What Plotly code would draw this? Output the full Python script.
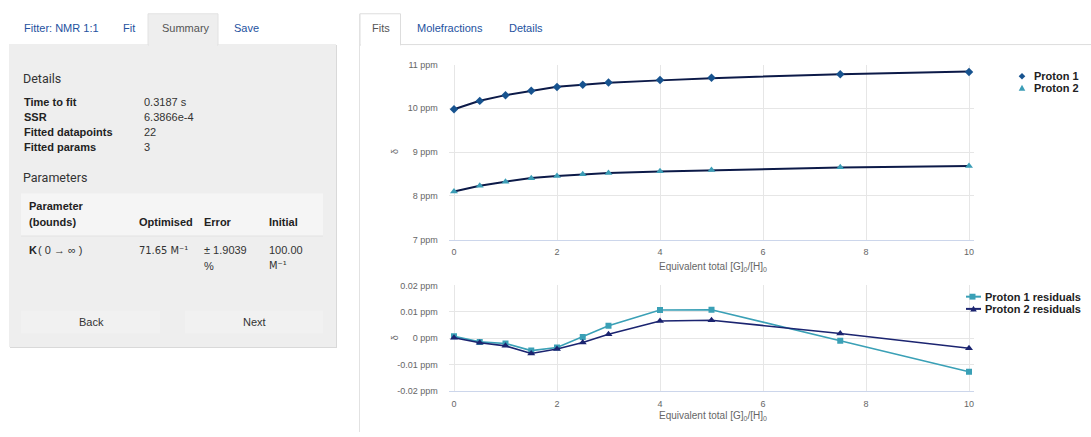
import plotly.graph_objects as go

W, H = 1091, 437

# Titration: equivalents of guest added
equiv = [0, 0.5, 1, 1.5, 2, 2.5, 3, 4, 5, 7.5, 10]

# Observed chemical shifts (ppm)
proton1_obs = [9.98, 10.17, 10.30, 10.40, 10.49, 10.54, 10.59, 10.65, 10.70, 10.78, 10.83]
proton2_obs = [8.10, 8.23, 8.32, 8.40, 8.45, 8.49, 8.52, 8.56, 8.59, 8.65, 8.68]

# Residuals of the 1:1 fit (ppm)
proton1_resid = [0.0007, -0.0014, -0.0020, -0.0047, -0.0035, 0.0005, 0.0047, 0.0107, 0.0108, -0.0010, -0.0127]
proton2_resid = [0.0002, -0.0017, -0.0029, -0.0058, -0.0041, -0.0016, 0.0015, 0.0065, 0.0068, 0.0018, -0.0038]

# Fitted curves: observed minus residual
proton1_fit = [o - r for o, r in zip(proton1_obs, proton1_resid)]
proton2_fit = [o - r for o, r in zip(proton2_obs, proton2_resid)]

x_ticks = [0, 2, 4, 6, 8, 10]
fit_ticks = [7, 8, 9, 10, 11]
fit_tick_labels = ["7 ppm", "8 ppm", "9 ppm", "10 ppm", "11 ppm"]
resid_ticks = [-0.02, -0.01, 0, 0.01, 0.02]
resid_tick_labels = ["-0.02 ppm", "-0.01 ppm", "0 ppm", "0.01 ppm", "0.02 ppm"]

x_title = "Equivalent total [G]<sub>0</sub>/[H]<sub>0</sub>"

C_P1 = "#17538f"
C_P2 = "#3b9db6"
C_FIT = "#0c1a48"
C_R1 = "#3aa0b6"
C_R2 = "#1b2470"
LINK = "#2452a0"
UI_FONT = "Liberation Sans"


def px(x):
    return x / W


def py(y):
    return 1 - y / H


fig = go.Figure()

# --- fits panel ---
fig.add_trace(go.Scatter(x=equiv, y=proton1_fit, mode="lines",
                         line=dict(color=C_FIT, width=2), xaxis="x", yaxis="y"))
fig.add_trace(go.Scatter(x=equiv, y=proton2_fit, mode="lines",
                         line=dict(color=C_FIT, width=2), xaxis="x", yaxis="y"))
fig.add_trace(go.Scatter(x=equiv, y=proton1_obs, mode="markers",
                         marker=dict(symbol="diamond", size=6.5, color=C_P1),
                         xaxis="x", yaxis="y"))
fig.add_trace(go.Scatter(x=equiv, y=proton2_obs, mode="markers",
                         marker=dict(symbol="triangle-up", size=7, color=C_P2),
                         xaxis="x", yaxis="y"))

# --- residuals panel ---
fig.add_trace(go.Scatter(x=equiv, y=proton1_resid, mode="lines+markers",
                         line=dict(color=C_R1, width=1.6),
                         marker=dict(symbol="square", size=6, color=C_R1),
                         xaxis="x2", yaxis="y2"))
fig.add_trace(go.Scatter(x=equiv, y=proton2_resid, mode="lines+markers",
                         line=dict(color=C_R2, width=1.6),
                         marker=dict(symbol="triangle-up", size=7, color=C_R2),
                         xaxis="x2", yaxis="y2"))

x_dom = [px(448.85), px(974.15)]
tick_font = dict(family=UI_FONT, size=9, color="#666666")
xaxis_common = dict(range=[-0.1, 10.1], tickvals=x_ticks, showgrid=True,
                    gridcolor="#e6e6e6", showline=True, linecolor="#ccd6eb",
                    linewidth=1, zeroline=False, ticks="", tickfont=tick_font,
                    ticklabelstandoff=4, fixedrange=True)
yaxis_common = dict(showgrid=True, gridcolor="#e6e6e6", zeroline=False,
                    showline=False, ticks="", tickfont=tick_font,
                    ticklabelstandoff=10, fixedrange=True)

annotations = []
shapes = []


def txt(x, y, s, size=11, color="#333333", anchor="left", family=UI_FONT,
        angle=0, bold=False):
    annotations.append(dict(x=px(x), y=py(y), xref="paper", yref="paper", text=s,
                            showarrow=False, xanchor=anchor, yanchor="middle",
                            textangle=angle,
                            font=dict(family=family, size=size, color=color,
                                      weight="bold" if bold else "normal")))


def rect(x0, y0, x1, y1, fill, line=None, lw=0, layer="below"):
    shapes.append(dict(type="rect", xref="paper", yref="paper",
                       x0=px(x0), x1=px(x1), y0=py(y1), y1=py(y0),
                       fillcolor=fill, line=dict(color=line or fill, width=lw),
                       layer=layer))


def hline(x0, x1, y, color, width=1, layer="below"):
    shapes.append(dict(type="line", xref="paper", yref="paper",
                       x0=px(x0), x1=px(x1), y0=py(y), y1=py(y),
                       line=dict(color=color, width=width), layer=layer))


def vline(x, y0, y1, color, width=1):
    shapes.append(dict(type="line", xref="paper", yref="paper",
                       x0=px(x), x1=px(x), y0=py(y0), y1=py(y1),
                       line=dict(color=color, width=width), layer="below"))


def path(points, color):
    d = "M " + " L ".join(f"{px(a):.5f},{py(b):.5f}" for a, b in points) + " Z"
    shapes.append(dict(type="path", xref="paper", yref="paper", path=d,
                       fillcolor=color, line=dict(color=color, width=0)))


# ---------- left summary panel ----------
rect(10, 41, 337, 351, "#d9d9d9")          # shadow
rect(9, 40, 336, 350, "#eeeeee")           # panel
rect(148, 9, 218, 41, "#eeeeee", "#e2e2e2", 1)
rect(149, 38, 217, 44, "#eeeeee")

txt(22, 24, "Fitter: NMR 1:1", 11, LINK)
txt(121, 24, "Fit", 11, LINK)
txt(160, 24, "Summary", 11, "#555555")
txt(232, 24, "Save", 11, LINK)

txt(21, 75, "Details", 12.5, "#333333", family="Roboto")
rows = [("Time to fit", "0.3187 s"), ("SSR", "6.3866e-4"),
        ("Fitted datapoints", "22"), ("Fitted params", "3")]
for i, (k, v) in enumerate(rows):
    yy = 99 + i * 15.5
    txt(22, yy, k, 11, "#222222", bold=True)
    txt(142, yy, v, 11, "#333333")

txt(21, 177, "Parameters", 12.5, "#333333", family="Roboto")
rect(21, 194, 323, 237, "#e2e2e2")
rect(21, 193, 323, 236, "#f5f5f5")
txt(27, 206, "Parameter", 11, "#222222", bold=True)
txt(27, 222, "(bounds)", 11, "#222222", bold=True)
txt(137, 222, "Optimised", 11, "#222222", bold=True)
txt(202, 222, "Error", 11, "#222222", bold=True)
txt(267, 222, "Initial", 11, "#222222", bold=True)

txt(27, 251, "K", 11, "#222222", bold=True)
txt(36, 251, "( 0 → ∞ )", 11, "#333333")
txt(137, 251, "71.65 M⁻¹", 11, "#333333", family="DejaVu Sans Condensed, Liberation Sans")
txt(202, 251, "± 1.9039", 11, "#333333")
txt(202, 267, "%", 11, "#333333")
txt(267, 251, "100.00", 11, "#333333")
txt(267, 267, "M⁻¹", 11, "#333333", family="DejaVu Sans Condensed, Liberation Sans")

rect(21, 313, 160, 336, "#f1f1f1")
rect(185, 313, 323, 336, "#f1f1f1")
txt(91, 324, "Back", 11, "#333333", anchor="center")
txt(254, 324, "Next", 11, "#333333", anchor="center")

# ---------- right tabs ----------
hline(400, 1091, 40.5, "#dddddd")
rect(360, 9, 400.5, 41, "#ffffff", "#dddddd", 1)
rect(361, 38, 400, 44, "#ffffff")
vline(359.5, 9, 437, "#e2e2e2")
txt(380.5, 24, "Fits", 11, "#555555", anchor="center")
txt(415, 24, "Molefractions", 11, LINK)
txt(507, 24, "Details", 11, LINK)

# ---------- axis titles ----------
txt(395, 150.5, "δ", 9, "#666666", anchor="center", angle=-90)
txt(395, 341, "δ", 9, "#666666", anchor="center", angle=-90)
txt(713, 268, x_title, 10, "#666666", anchor="center")
txt(713, 421, x_title, 10, "#666666", anchor="center")

# ---------- legends ----------
r = 3.3
cx, cy = 1022, 73
path([(cx, cy - r), (cx + r, cy), (cx, cy + r), (cx - r, cy)], C_P1)
cx, cy = 1022, 85
path([(cx - r, cy + r * 0.85), (cx + r, cy + r * 0.85), (cx, cy - r)], C_P2)
txt(1032, 73, "Proton 1", 11, "#222222", bold=True)
txt(1032, 85, "Proton 2", 11, "#222222", bold=True)

hline(966, 981, 298.5, C_R1, 2, layer="above")
rect(969.5, 295.5, 975.5, 301.5, C_R1, layer="above")
hline(966, 981, 311, C_R2, 2, layer="above")
cx, cy = 973.5, 311
path([(cx - r, cy + r * 0.85), (cx + r, cy + r * 0.85), (cx, cy - r)], C_R2)
txt(983, 298.5, "Proton 1 residuals", 11, "#222222", bold=True)
txt(983, 311, "Proton 2 residuals", 11, "#222222", bold=True)

fig.update_layout(
    width=W, height=H,
    margin=dict(l=0, r=0, t=0, b=0),
    paper_bgcolor="#ffffff", plot_bgcolor="rgba(0,0,0,0)",
    showlegend=False,
    xaxis=dict(domain=x_dom, anchor="y", **xaxis_common),
    yaxis=dict(domain=[py(240), py(61)], range=[7, 11], tickvals=fit_ticks,
               ticktext=fit_tick_labels, anchor="x", **yaxis_common),
    xaxis2=dict(domain=x_dom, anchor="y2", **xaxis_common),
    yaxis2=dict(domain=[py(395), py(287)], range=[-0.02, 0.02], tickvals=resid_ticks,
                ticktext=resid_tick_labels, anchor="x2", **yaxis_common),
    annotations=annotations,
    shapes=shapes,
)

fig.write_html("out.html", config=dict(displayModeBar=False))
